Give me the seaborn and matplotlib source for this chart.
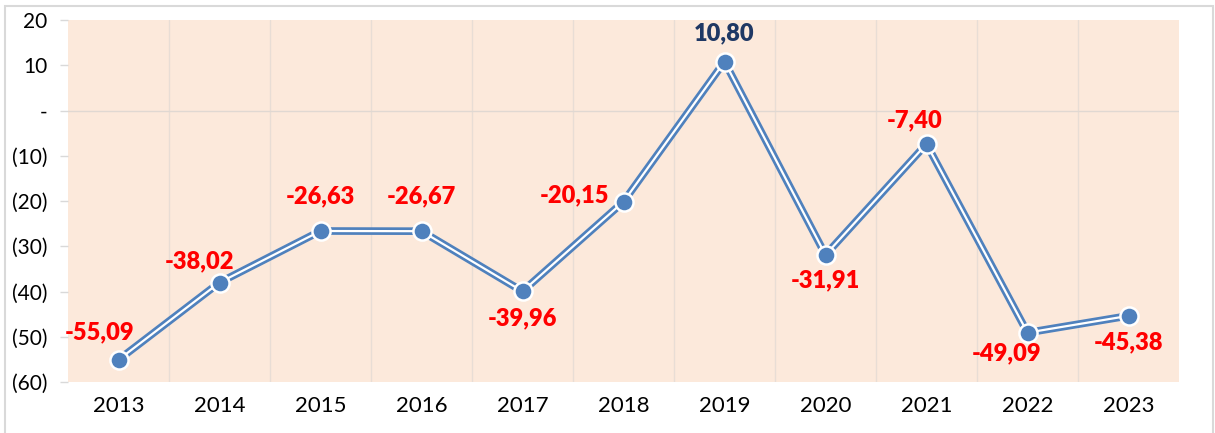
import pandas as pd
import matplotlib.pyplot as plt
from matplotlib.patches import Rectangle
from matplotlib.ticker import FixedLocator
import seaborn as sns

years = ["2013", "2014", "2015", "2016", "2017", "2018", "2019", "2020", "2021", "2022", "2023"]
values = [-55.09, -38.02, -26.63, -26.67, -39.96, -20.15, 10.80, -31.91, -7.40, -49.09, -45.38]
y_ticks = [20, 10, 0, -10, -20, -30, -40, -50, -60]
y_tick_labels = ["20", "10", "-", "(10)", "(20)", "(30)", "(40)", "(50)", "(60)"]

# label offsets in pixels (dx, dy) relative to each point
label_offsets = [(-19, 27), (-20, 21), (0, 35), (0, 35), (0, -27), (-49, 6),
                 (0, 28), (0, -25), (-12, 24), (-21, -21), (0, -26)]

df = pd.DataFrame({"pos": range(len(years)), "value": values})

sns.set_theme(style="white")
plt.rcParams['font.family'] = ['Lato', 'DejaVu Sans']

fig = plt.figure(figsize=(12.15, 4.33), dpi=100)
ax = fig.add_axes([68 / 1215, 1 - 382 / 433, 1111 / 1215, 362 / 433])
ax.set_facecolor("#FCE9DB")

# double line: thick blue with thin white core
sns.lineplot(data=df, x="pos", y="value", color="#4F81BD", linewidth=5.5, ax=ax, zorder=3)
sns.lineplot(data=df, x="pos", y="value", color="white", linewidth=1.6, ax=ax, zorder=4)
sns.scatterplot(data=df, x="pos", y="value", color="#4F81BD", s=170, edgecolor="white",
                linewidth=1.8, ax=ax, zorder=5)

for i, v in enumerate(values):
    txt = f"{v:.2f}".replace(".", ",")
    col = "#1F3864" if v > 0 else "#FF0000"
    dx, dy = label_offsets[i]
    ax.annotate(txt, (i, v), xytext=(dx, dy), textcoords="offset pixels",
                ha="center", va="center", fontsize=17, fontweight="heavy", color=col, zorder=6)

ax.set_xlim(-0.5, len(years) - 0.5)
ax.set_ylim(-60, 20)
ax.set_xticks(range(len(years)))
ax.set_xticklabels(years, fontsize=16, color="black")
ax.set_yticks(y_ticks)
ax.set_yticklabels(y_tick_labels, fontsize=15, color="black")
ax.xaxis.set_minor_locator(FixedLocator([i + 0.5 for i in range(len(years) - 1)]))
ax.grid(which="minor", axis="x", color="#E8DDD5", linewidth=1)
ax.axhline(0, color="#E0D8D2", linewidth=1, zorder=1)
ax.tick_params(axis="x", which="both", length=0, pad=10)
ax.tick_params(axis="y", length=6, color="#D9D9D9", width=1, pad=9, left=True)
ax.set_xlabel("")
ax.set_ylabel("")
for s in ax.spines.values():
    s.set_visible(False)

# outer chart border
fig.patches.append(Rectangle((5 / 1215, -0.05), 1208 / 1215, 1 - 6 / 433 + 0.05,
                             transform=fig.transFigure, fill=False,
                             edgecolor="#D9D9D9", linewidth=1.5))

fig.savefig("out.png", dpi=100)
